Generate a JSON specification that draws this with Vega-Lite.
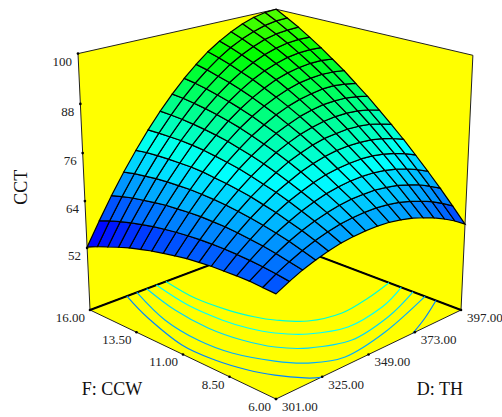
{"$schema":"https://vega.github.io/schema/vega-lite/v6.json","width":502,"height":417,"padding":0,"autosize":"none","background":"white","view":{"stroke":null},
"projection":{"type":"identity","scale":1,"translate":[0,0]},
"data":{"values":[
{"g":"f","p":"a","n":0,"D":301,"F":16,"CCT":35.7},{"g":"f","p":"a","n":1,"D":397,"F":16,"CCT":35.7},{"g":"f","p":"a","n":2,"D":397,"F":16,"CCT":100},{"g":"f","p":"a","n":3,"D":301,"F":16,"CCT":100},
{"g":"f","p":"b","n":0,"D":397,"F":16,"CCT":35.7},{"g":"f","p":"b","n":1,"D":397,"F":6,"CCT":35.7},{"g":"f","p":"b","n":2,"D":397,"F":6,"CCT":100},{"g":"f","p":"b","n":3,"D":397,"F":16,"CCT":100},
{"g":"f","p":"c","n":0,"D":301,"F":6,"CCT":35.7},{"g":"f","p":"c","n":1,"D":397,"F":6,"CCT":35.7},{"g":"f","p":"c","n":2,"D":397,"F":16,"CCT":35.7},{"g":"f","p":"c","n":3,"D":301,"F":16,"CCT":35.7},
{"g":"e","n":0,"D":301,"F":16,"CCT":35.7},{"g":"e","n":1,"D":397,"F":16,"CCT":35.7},{"g":"e","n":2,"D":397,"F":6,"CCT":35.7},
{"g":"c","c":1,"n":0,"L":65,"CCT":35.7,"D":318.3,"F":16},{"g":"c","c":1,"n":1,"L":65,"CCT":35.7,"D":311.5,"F":13.9},{"g":"c","c":1,"n":2,"L":65,"CCT":35.7,"D":305.6,"F":11.29},{"g":"c","c":1,"n":3,"L":65,"CCT":35.7,"D":305.9,"F":9.57},{"g":"c","c":1,"n":4,"L":65,"CCT":35.7,"D":308.7,"F":8.19},{"g":"c","c":1,"n":5,"L":65,"CCT":35.7,"D":312.5,"F":7.25},{"g":"c","c":1,"n":6,"L":65,"CCT":35.7,"D":318.1,"F":6.36},{"g":"c","c":1,"n":7,"L":65,"CCT":35.7,"D":322.1,"F":6},
{"g":"c","c":2,"n":0,"L":68,"CCT":35.7,"D":323.1,"F":16},{"g":"c","c":2,"n":1,"L":68,"CCT":35.7,"D":314.7,"F":13.32},{"g":"c","c":2,"n":2,"L":68,"CCT":35.7,"D":312.1,"F":11.18},{"g":"c","c":2,"n":3,"L":68,"CCT":35.7,"D":313.6,"F":9.54},{"g":"c","c":2,"n":4,"L":68,"CCT":35.7,"D":319.7,"F":8.01},{"g":"c","c":2,"n":5,"L":68,"CCT":35.7,"D":326.6,"F":7.07},{"g":"c","c":2,"n":6,"L":68,"CCT":35.7,"D":338.8,"F":6.46},{"g":"c","c":2,"n":7,"L":68,"CCT":35.7,"D":363.3,"F":6.79},{"g":"c","c":2,"n":8,"L":68,"CCT":35.7,"D":397,"F":7.78},
{"g":"c","c":3,"n":0,"L":71,"CCT":35.7,"D":327.9,"F":16},{"g":"c","c":3,"n":1,"L":71,"CCT":35.7,"D":322.9,"F":13.72},{"g":"c","c":3,"n":2,"L":71,"CCT":35.7,"D":321.2,"F":11.67},{"g":"c","c":3,"n":3,"L":71,"CCT":35.7,"D":323,"F":10.05},{"g":"c","c":3,"n":4,"L":71,"CCT":35.7,"D":327.3,"F":8.79},{"g":"c","c":3,"n":5,"L":71,"CCT":35.7,"D":334.8,"F":7.89},{"g":"c","c":3,"n":6,"L":71,"CCT":35.7,"D":350.2,"F":7.21},{"g":"c","c":3,"n":7,"L":71,"CCT":35.7,"D":373.5,"F":7.57},{"g":"c","c":3,"n":8,"L":71,"CCT":35.7,"D":397,"F":8.39},
{"g":"c","c":4,"n":0,"L":74,"CCT":35.7,"D":332.7,"F":16},{"g":"c","c":4,"n":1,"L":74,"CCT":35.7,"D":329.1,"F":13.71},{"g":"c","c":4,"n":2,"L":74,"CCT":35.7,"D":329.2,"F":11.81},{"g":"c","c":4,"n":3,"L":74,"CCT":35.7,"D":331.2,"F":10.62},{"g":"c","c":4,"n":4,"L":74,"CCT":35.7,"D":335.1,"F":9.61},{"g":"c","c":4,"n":5,"L":74,"CCT":35.7,"D":342.8,"F":8.69},{"g":"c","c":4,"n":6,"L":74,"CCT":35.7,"D":357,"F":8.05},{"g":"c","c":4,"n":7,"L":74,"CCT":35.7,"D":378.5,"F":8.32},{"g":"c","c":4,"n":8,"L":74,"CCT":35.7,"D":397,"F":9},
{"g":"c","c":5,"n":0,"L":77,"CCT":35.7,"D":337.5,"F":16},{"g":"c","c":5,"n":1,"L":77,"CCT":35.7,"D":335.1,"F":14},{"g":"c","c":5,"n":2,"L":77,"CCT":35.7,"D":336.5,"F":12.29},{"g":"c","c":5,"n":3,"L":77,"CCT":35.7,"D":339.4,"F":11.12},{"g":"c","c":5,"n":4,"L":77,"CCT":35.7,"D":342.7,"F":10.4},{"g":"c","c":5,"n":5,"L":77,"CCT":35.7,"D":350.5,"F":9.46},{"g":"c","c":5,"n":6,"L":77,"CCT":35.7,"D":364.2,"F":9.04},{"g":"c","c":5,"n":7,"L":77,"CCT":35.7,"D":380.8,"F":9.25},{"g":"c","c":5,"n":8,"L":77,"CCT":35.7,"D":397,"F":9.64},
{"g":"c","c":6,"n":0,"L":65,"CCT":35.7,"D":397,"F":7.23},{"g":"c","c":6,"n":1,"L":65,"CCT":35.7,"D":382.3,"F":6.52},{"g":"c","c":6,"n":2,"L":65,"CCT":35.7,"D":369.6,"F":6},
{"g":"tz","D":301,"F":16,"CCT":100,"t":"100"},{"g":"tz","D":301,"F":16,"CCT":88,"t":"88"},{"g":"tz","D":301,"F":16,"CCT":76,"t":"76"},{"g":"tz","D":301,"F":16,"CCT":64,"t":"64"},{"g":"tz","D":301,"F":16,"CCT":52,"t":"52"},
{"g":"tf","D":301,"F":16,"CCT":35.7,"t":"16.00"},{"g":"tf","D":301,"F":13.26,"CCT":35.7,"t":"13.50"},{"g":"tf","D":301,"F":10.69,"CCT":35.7,"t":"11.00"},{"g":"tf","D":301,"F":8.275,"CCT":35.7,"t":"8.50"},{"g":"tf","D":301,"F":6,"CCT":35.7,"t":"6.00"},
{"g":"td","D":301,"F":6,"CCT":35.7,"t":"301.00"},{"g":"td","D":322.7,"F":6,"CCT":35.7,"t":"325.00"},{"g":"td","D":345.9,"F":6,"CCT":35.7,"t":"349.00"},{"g":"td","D":370.6,"F":6,"CCT":35.7,"t":"373.00"},{"g":"td","D":397,"F":6,"CCT":35.7,"t":"397.00"},
{"g":"title","D":267.7,"F":10.39,"CCT":35.7,"t":"F: CCW"},{"g":"title","D":343.1,"F":2.49,"CCT":35.7,"t":"D: TH"},{"g":"zt","D":301,"F":16,"CCT":67.5,"t":"CCT"},
{"g":"s","D":301,"F":6,"CCT":60.4},{"g":"s","D":301,"F":6.625,"CCT":60.6},{"g":"s","D":301,"F":7.25,"CCT":60.8},{"g":"s","D":301,"F":7.875,"CCT":60.8},{"g":"s","D":301,"F":8.5,"CCT":60.7},{"g":"s","D":301,"F":9.125,"CCT":60.6},{"g":"s","D":301,"F":9.75,"CCT":60.3},{"g":"s","D":301,"F":10.375,"CCT":60},{"g":"s","D":301,"F":11,"CCT":59.5},{"g":"s","D":301,"F":11.625,"CCT":58.9},{"g":"s","D":301,"F":12.25,"CCT":58.3},{"g":"s","D":301,"F":12.875,"CCT":57.5},{"g":"s","D":301,"F":13.5,"CCT":56.7},{"g":"s","D":301,"F":14.125,"CCT":55.7},{"g":"s","D":301,"F":14.75,"CCT":54.6},{"g":"s","D":301,"F":15.375,"CCT":53.5},{"g":"s","D":301,"F":16,"CCT":52.2},
{"g":"s","D":307,"F":6,"CCT":62},{"g":"s","D":307,"F":6.625,"CCT":62.5},{"g":"s","D":307,"F":7.25,"CCT":62.9},{"g":"s","D":307,"F":7.875,"CCT":63.2},{"g":"s","D":307,"F":8.5,"CCT":63.4},{"g":"s","D":307,"F":9.125,"CCT":63.5},{"g":"s","D":307,"F":9.75,"CCT":63.5},{"g":"s","D":307,"F":10.375,"CCT":63.4},{"g":"s","D":307,"F":11,"CCT":63.2},{"g":"s","D":307,"F":11.625,"CCT":62.9},{"g":"s","D":307,"F":12.25,"CCT":62.5},{"g":"s","D":307,"F":12.875,"CCT":62},{"g":"s","D":307,"F":13.5,"CCT":61.4},{"g":"s","D":307,"F":14.125,"CCT":60.7},{"g":"s","D":307,"F":14.75,"CCT":59.9},{"g":"s","D":307,"F":15.375,"CCT":59},{"g":"s","D":307,"F":16,"CCT":57.9},
{"g":"s","D":313,"F":6,"CCT":63.4},{"g":"s","D":313,"F":6.625,"CCT":64.1},{"g":"s","D":313,"F":7.25,"CCT":64.8},{"g":"s","D":313,"F":7.875,"CCT":65.4},{"g":"s","D":313,"F":8.5,"CCT":65.8},{"g":"s","D":313,"F":9.125,"CCT":66.2},{"g":"s","D":313,"F":9.75,"CCT":66.5},{"g":"s","D":313,"F":10.375,"CCT":66.6},{"g":"s","D":313,"F":11,"CCT":66.7},{"g":"s","D":313,"F":11.625,"CCT":66.6},{"g":"s","D":313,"F":12.25,"CCT":66.4},{"g":"s","D":313,"F":12.875,"CCT":66.2},{"g":"s","D":313,"F":13.5,"CCT":65.8},{"g":"s","D":313,"F":14.125,"CCT":65.3},{"g":"s","D":313,"F":14.75,"CCT":64.8},{"g":"s","D":313,"F":15.375,"CCT":64.1},{"g":"s","D":313,"F":16,"CCT":63.3},
{"g":"s","D":319,"F":6,"CCT":64.5},{"g":"s","D":319,"F":6.625,"CCT":65.5},{"g":"s","D":319,"F":7.25,"CCT":66.5},{"g":"s","D":319,"F":7.875,"CCT":67.3},{"g":"s","D":319,"F":8.5,"CCT":68},{"g":"s","D":319,"F":9.125,"CCT":68.6},{"g":"s","D":319,"F":9.75,"CCT":69.1},{"g":"s","D":319,"F":10.375,"CCT":69.5},{"g":"s","D":319,"F":11,"CCT":69.8},{"g":"s","D":319,"F":11.625,"CCT":70},{"g":"s","D":319,"F":12.25,"CCT":70.1},{"g":"s","D":319,"F":12.875,"CCT":70},{"g":"s","D":319,"F":13.5,"CCT":69.9},{"g":"s","D":319,"F":14.125,"CCT":69.7},{"g":"s","D":319,"F":14.75,"CCT":69.3},{"g":"s","D":319,"F":15.375,"CCT":68.9},{"g":"s","D":319,"F":16,"CCT":68.3},
{"g":"s","D":325,"F":6,"CCT":65.4},{"g":"s","D":325,"F":6.625,"CCT":66.7},{"g":"s","D":325,"F":7.25,"CCT":67.9},{"g":"s","D":325,"F":7.875,"CCT":68.9},{"g":"s","D":325,"F":8.5,"CCT":69.9},{"g":"s","D":325,"F":9.125,"CCT":70.7},{"g":"s","D":325,"F":9.75,"CCT":71.5},{"g":"s","D":325,"F":10.375,"CCT":72.1},{"g":"s","D":325,"F":11,"CCT":72.6},{"g":"s","D":325,"F":11.625,"CCT":73},{"g":"s","D":325,"F":12.25,"CCT":73.4},{"g":"s","D":325,"F":12.875,"CCT":73.6},{"g":"s","D":325,"F":13.5,"CCT":73.6},{"g":"s","D":325,"F":14.125,"CCT":73.6},{"g":"s","D":325,"F":14.75,"CCT":73.5},{"g":"s","D":325,"F":15.375,"CCT":73.3},{"g":"s","D":325,"F":16,"CCT":72.9},
{"g":"s","D":331,"F":6,"CCT":66.1},{"g":"s","D":331,"F":6.625,"CCT":67.6},{"g":"s","D":331,"F":7.25,"CCT":69},{"g":"s","D":331,"F":7.875,"CCT":70.3},{"g":"s","D":331,"F":8.5,"CCT":71.5},{"g":"s","D":331,"F":9.125,"CCT":72.6},{"g":"s","D":331,"F":9.75,"CCT":73.5},{"g":"s","D":331,"F":10.375,"CCT":74.4},{"g":"s","D":331,"F":11,"CCT":75.2},{"g":"s","D":331,"F":11.625,"CCT":75.8},{"g":"s","D":331,"F":12.25,"CCT":76.3},{"g":"s","D":331,"F":12.875,"CCT":76.8},{"g":"s","D":331,"F":13.5,"CCT":77.1},{"g":"s","D":331,"F":14.125,"CCT":77.3},{"g":"s","D":331,"F":14.75,"CCT":77.3},{"g":"s","D":331,"F":15.375,"CCT":77.3},{"g":"s","D":331,"F":16,"CCT":77.2},
{"g":"s","D":337,"F":6,"CCT":66.5},{"g":"s","D":337,"F":6.625,"CCT":68.3},{"g":"s","D":337,"F":7.25,"CCT":69.9},{"g":"s","D":337,"F":7.875,"CCT":71.4},{"g":"s","D":337,"F":8.5,"CCT":72.8},{"g":"s","D":337,"F":9.125,"CCT":74.1},{"g":"s","D":337,"F":9.75,"CCT":75.3},{"g":"s","D":337,"F":10.375,"CCT":76.4},{"g":"s","D":337,"F":11,"CCT":77.4},{"g":"s","D":337,"F":11.625,"CCT":78.2},{"g":"s","D":337,"F":12.25,"CCT":79},{"g":"s","D":337,"F":12.875,"CCT":79.6},{"g":"s","D":337,"F":13.5,"CCT":80.1},{"g":"s","D":337,"F":14.125,"CCT":80.5},{"g":"s","D":337,"F":14.75,"CCT":80.8},{"g":"s","D":337,"F":15.375,"CCT":81},{"g":"s","D":337,"F":16,"CCT":81.1},
{"g":"s","D":343,"F":6,"CCT":66.7},{"g":"s","D":343,"F":6.625,"CCT":68.7},{"g":"s","D":343,"F":7.25,"CCT":70.6},{"g":"s","D":343,"F":7.875,"CCT":72.3},{"g":"s","D":343,"F":8.5,"CCT":73.9},{"g":"s","D":343,"F":9.125,"CCT":75.5},{"g":"s","D":343,"F":9.75,"CCT":76.9},{"g":"s","D":343,"F":10.375,"CCT":78.2},{"g":"s","D":343,"F":11,"CCT":79.3},{"g":"s","D":343,"F":11.625,"CCT":80.4},{"g":"s","D":343,"F":12.25,"CCT":81.4},{"g":"s","D":343,"F":12.875,"CCT":82.2},{"g":"s","D":343,"F":13.5,"CCT":82.9},{"g":"s","D":343,"F":14.125,"CCT":83.5},{"g":"s","D":343,"F":14.75,"CCT":84},{"g":"s","D":343,"F":15.375,"CCT":84.4},{"g":"s","D":343,"F":16,"CCT":84.6},
{"g":"s","D":349,"F":6,"CCT":66.7},{"g":"s","D":349,"F":6.625,"CCT":68.9},{"g":"s","D":349,"F":7.25,"CCT":71},{"g":"s","D":349,"F":7.875,"CCT":72.9},{"g":"s","D":349,"F":8.5,"CCT":74.8},{"g":"s","D":349,"F":9.125,"CCT":76.5},{"g":"s","D":349,"F":9.75,"CCT":78.1},{"g":"s","D":349,"F":10.375,"CCT":79.6},{"g":"s","D":349,"F":11,"CCT":81},{"g":"s","D":349,"F":11.625,"CCT":82.2},{"g":"s","D":349,"F":12.25,"CCT":83.4},{"g":"s","D":349,"F":12.875,"CCT":84.4},{"g":"s","D":349,"F":13.5,"CCT":85.3},{"g":"s","D":349,"F":14.125,"CCT":86.1},{"g":"s","D":349,"F":14.75,"CCT":86.8},{"g":"s","D":349,"F":15.375,"CCT":87.4},{"g":"s","D":349,"F":16,"CCT":87.8},
{"g":"s","D":355,"F":6,"CCT":66.5},{"g":"s","D":355,"F":6.625,"CCT":68.9},{"g":"s","D":355,"F":7.25,"CCT":71.1},{"g":"s","D":355,"F":7.875,"CCT":73.3},{"g":"s","D":355,"F":8.5,"CCT":75.3},{"g":"s","D":355,"F":9.125,"CCT":77.3},{"g":"s","D":355,"F":9.75,"CCT":79.1},{"g":"s","D":355,"F":10.375,"CCT":80.8},{"g":"s","D":355,"F":11,"CCT":82.3},{"g":"s","D":355,"F":11.625,"CCT":83.8},{"g":"s","D":355,"F":12.25,"CCT":85.1},{"g":"s","D":355,"F":12.875,"CCT":86.3},{"g":"s","D":355,"F":13.5,"CCT":87.4},{"g":"s","D":355,"F":14.125,"CCT":88.4},{"g":"s","D":355,"F":14.75,"CCT":89.2},{"g":"s","D":355,"F":15.375,"CCT":90},{"g":"s","D":355,"F":16,"CCT":90.6},
{"g":"s","D":361,"F":6,"CCT":66},{"g":"s","D":361,"F":6.625,"CCT":68.6},{"g":"s","D":361,"F":7.25,"CCT":71.1},{"g":"s","D":361,"F":7.875,"CCT":73.4},{"g":"s","D":361,"F":8.5,"CCT":75.6},{"g":"s","D":361,"F":9.125,"CCT":77.8},{"g":"s","D":361,"F":9.75,"CCT":79.8},{"g":"s","D":361,"F":10.375,"CCT":81.6},{"g":"s","D":361,"F":11,"CCT":83.4},{"g":"s","D":361,"F":11.625,"CCT":85},{"g":"s","D":361,"F":12.25,"CCT":86.5},{"g":"s","D":361,"F":12.875,"CCT":87.9},{"g":"s","D":361,"F":13.5,"CCT":89.2},{"g":"s","D":361,"F":14.125,"CCT":90.3},{"g":"s","D":361,"F":14.75,"CCT":91.4},{"g":"s","D":361,"F":15.375,"CCT":92.3},{"g":"s","D":361,"F":16,"CCT":93.1},
{"g":"s","D":367,"F":6,"CCT":65.3},{"g":"s","D":367,"F":6.625,"CCT":68.1},{"g":"s","D":367,"F":7.25,"CCT":70.7},{"g":"s","D":367,"F":7.875,"CCT":73.3},{"g":"s","D":367,"F":8.5,"CCT":75.7},{"g":"s","D":367,"F":9.125,"CCT":78},{"g":"s","D":367,"F":9.75,"CCT":80.1},{"g":"s","D":367,"F":10.375,"CCT":82.2},{"g":"s","D":367,"F":11,"CCT":84.1},{"g":"s","D":367,"F":11.625,"CCT":85.9},{"g":"s","D":367,"F":12.25,"CCT":87.6},{"g":"s","D":367,"F":12.875,"CCT":89.2},{"g":"s","D":367,"F":13.5,"CCT":90.6},{"g":"s","D":367,"F":14.125,"CCT":91.9},{"g":"s","D":367,"F":14.75,"CCT":93.1},{"g":"s","D":367,"F":15.375,"CCT":94.2},{"g":"s","D":367,"F":16,"CCT":95.1},
{"g":"s","D":373,"F":6,"CCT":64.3},{"g":"s","D":373,"F":6.625,"CCT":67.3},{"g":"s","D":373,"F":7.25,"CCT":70.2},{"g":"s","D":373,"F":7.875,"CCT":72.9},{"g":"s","D":373,"F":8.5,"CCT":75.5},{"g":"s","D":373,"F":9.125,"CCT":77.9},{"g":"s","D":373,"F":9.75,"CCT":80.3},{"g":"s","D":373,"F":10.375,"CCT":82.5},{"g":"s","D":373,"F":11,"CCT":84.6},{"g":"s","D":373,"F":11.625,"CCT":86.5},{"g":"s","D":373,"F":12.25,"CCT":88.4},{"g":"s","D":373,"F":12.875,"CCT":90.1},{"g":"s","D":373,"F":13.5,"CCT":91.7},{"g":"s","D":373,"F":14.125,"CCT":93.2},{"g":"s","D":373,"F":14.75,"CCT":94.5},{"g":"s","D":373,"F":15.375,"CCT":95.7},{"g":"s","D":373,"F":16,"CCT":96.8},
{"g":"s","D":379,"F":6,"CCT":63.2},{"g":"s","D":379,"F":6.625,"CCT":66.3},{"g":"s","D":379,"F":7.25,"CCT":69.3},{"g":"s","D":379,"F":7.875,"CCT":72.2},{"g":"s","D":379,"F":8.5,"CCT":75},{"g":"s","D":379,"F":9.125,"CCT":77.6},{"g":"s","D":379,"F":9.75,"CCT":80.1},{"g":"s","D":379,"F":10.375,"CCT":82.5},{"g":"s","D":379,"F":11,"CCT":84.7},{"g":"s","D":379,"F":11.625,"CCT":86.9},{"g":"s","D":379,"F":12.25,"CCT":88.8},{"g":"s","D":379,"F":12.875,"CCT":90.7},{"g":"s","D":379,"F":13.5,"CCT":92.5},{"g":"s","D":379,"F":14.125,"CCT":94.1},{"g":"s","D":379,"F":14.75,"CCT":95.6},{"g":"s","D":379,"F":15.375,"CCT":96.9},{"g":"s","D":379,"F":16,"CCT":98.2},
{"g":"s","D":385,"F":6,"CCT":61.8},{"g":"s","D":385,"F":6.625,"CCT":65.1},{"g":"s","D":385,"F":7.25,"CCT":68.3},{"g":"s","D":385,"F":7.875,"CCT":71.3},{"g":"s","D":385,"F":8.5,"CCT":74.2},{"g":"s","D":385,"F":9.125,"CCT":77},{"g":"s","D":385,"F":9.75,"CCT":79.7},{"g":"s","D":385,"F":10.375,"CCT":82.2},{"g":"s","D":385,"F":11,"CCT":84.6},{"g":"s","D":385,"F":11.625,"CCT":86.9},{"g":"s","D":385,"F":12.25,"CCT":89},{"g":"s","D":385,"F":12.875,"CCT":91},{"g":"s","D":385,"F":13.5,"CCT":92.9},{"g":"s","D":385,"F":14.125,"CCT":94.7},{"g":"s","D":385,"F":14.75,"CCT":96.3},{"g":"s","D":385,"F":15.375,"CCT":97.8},{"g":"s","D":385,"F":16,"CCT":99.2},
{"g":"s","D":391,"F":6,"CCT":60.2},{"g":"s","D":391,"F":6.625,"CCT":63.6},{"g":"s","D":391,"F":7.25,"CCT":66.9},{"g":"s","D":391,"F":7.875,"CCT":70.1},{"g":"s","D":391,"F":8.5,"CCT":73.2},{"g":"s","D":391,"F":9.125,"CCT":76.1},{"g":"s","D":391,"F":9.75,"CCT":78.9},{"g":"s","D":391,"F":10.375,"CCT":81.6},{"g":"s","D":391,"F":11,"CCT":84.1},{"g":"s","D":391,"F":11.625,"CCT":86.5},{"g":"s","D":391,"F":12.25,"CCT":88.8},{"g":"s","D":391,"F":12.875,"CCT":91},{"g":"s","D":391,"F":13.5,"CCT":93},{"g":"s","D":391,"F":14.125,"CCT":94.9},{"g":"s","D":391,"F":14.75,"CCT":96.6},{"g":"s","D":391,"F":15.375,"CCT":98.3},{"g":"s","D":391,"F":16,"CCT":99.8},
{"g":"s","D":397,"F":6,"CCT":58.3},{"g":"s","D":397,"F":6.625,"CCT":61.9},{"g":"s","D":397,"F":7.25,"CCT":65.4},{"g":"s","D":397,"F":7.875,"CCT":68.7},{"g":"s","D":397,"F":8.5,"CCT":71.9},{"g":"s","D":397,"F":9.125,"CCT":75},{"g":"s","D":397,"F":9.75,"CCT":77.9},{"g":"s","D":397,"F":10.375,"CCT":80.7},{"g":"s","D":397,"F":11,"CCT":83.4},{"g":"s","D":397,"F":11.625,"CCT":85.9},{"g":"s","D":397,"F":12.25,"CCT":88.4},{"g":"s","D":397,"F":12.875,"CCT":90.6},{"g":"s","D":397,"F":13.5,"CCT":92.8},{"g":"s","D":397,"F":14.125,"CCT":94.8},{"g":"s","D":397,"F":14.75,"CCT":96.7},{"g":"s","D":397,"F":15.375,"CCT":98.4},{"g":"s","D":397,"F":16,"CCT":100}
]},
"transform":[
{"calculate":"(datum.D-301)/96","as":"u"},{"calculate":"(datum.F-6)/10","as":"v"},{"calculate":"(datum.CCT-35.7)/64.3","as":"h"},
{"calculate":"0.139*datum.u+0.132*datum.v+1-0.0687*datum.h","as":"w"},
{"calculate":"(249.1*datum.u-174.1*datum.v+276-18.96*datum.h)/datum.w","as":"x"},
{"calculate":"(-45.9*datum.u-48.1*datum.v+399-293.9*datum.h)/datum.w","as":"y"}
],
"layer":[
{"transform":[{"filter":"datum.g=='f'"},
{"window":[{"op":"lead","field":"x","param":1,"as":"x1"},{"op":"lead","field":"y","param":1,"as":"y1"},{"op":"lead","field":"x","param":2,"as":"x2"},{"op":"lead","field":"y","param":2,"as":"y2"},{"op":"lead","field":"x","param":3,"as":"x3"},{"op":"lead","field":"y","param":3,"as":"y3"}],"groupby":["p"],"sort":[{"field":"n"}]},
{"filter":"datum.n==0"},
{"calculate":"{type:'Polygon',coordinates:[[[datum.x,datum.y],[datum.x1,datum.y1],[datum.x2,datum.y2],[datum.x3,datum.y3],[datum.x,datum.y]]]}","as":"geo"}],
"mark":{"type":"geoshape","fill":"#ffff00","stroke":"#222222","strokeWidth":1},"encoding":{"shape":{"field":"geo","type":"geojson"}}},
{"transform":[{"filter":"datum.g=='e'"}],"mark":{"type":"line","color":"#000000","strokeWidth":2},"encoding":{"longitude":{"field":"x","type":"quantitative"},"latitude":{"field":"y","type":"quantitative"},"order":{"field":"n"}}},
{"transform":[{"filter":"datum.g=='c'"}],"mark":{"type":"line","strokeWidth":1.2,"interpolate":"cardinal"},"encoding":{"longitude":{"field":"x","type":"quantitative"},"latitude":{"field":"y","type":"quantitative"},"detail":{"field":"c"},"order":{"field":"n"},"color":{"field":"L","type":"quantitative","legend":null,"scale":{"domain":[55,74,93,114],"range":["#0000ff","#00ffff","#00ff00","#ffff00"],"interpolate":"rgb"}}}},
{"transform":[{"filter":"datum.g=='s'"},
{"window":[{"op":"lead","field":"x","param":1,"as":"x1"},{"op":"lead","field":"y","param":1,"as":"y1"},{"op":"lead","field":"CCT","param":1,"as":"c1"},{"op":"lead","field":"x","param":17,"as":"x2"},{"op":"lead","field":"y","param":17,"as":"y2"},{"op":"lead","field":"CCT","param":17,"as":"c2"},{"op":"lead","field":"x","param":18,"as":"x3"},{"op":"lead","field":"y","param":18,"as":"y3"},{"op":"lead","field":"CCT","param":18,"as":"c3"}],"sort":[{"field":"D"},{"field":"F"}]},
{"filter":"datum.D<397&&datum.F<16"},
{"calculate":"(datum.CCT+datum.c1+datum.c2+datum.c3)/4","as":"m"},
{"calculate":"{type:'Polygon',coordinates:[[[datum.x,datum.y],[datum.x1,datum.y1],[datum.x3,datum.y3],[datum.x2,datum.y2],[datum.x,datum.y]]]}","as":"geo"}],
"mark":{"type":"geoshape","stroke":"#000000","strokeWidth":1.2},"encoding":{"shape":{"field":"geo","type":"geojson"},"color":{"field":"m","type":"quantitative","legend":null,"scale":{"domain":[55,74,93,114],"range":["#0000ff","#00ffff","#00ff00","#ffff00"],"interpolate":"rgb"}}}},
{"transform":[{"filter":"datum.g=='tz'||datum.g=='tf'||datum.g=='td'"}],"mark":{"type":"circle","size":7,"color":"#000000","opacity":1},"encoding":{"longitude":{"field":"x","type":"quantitative"},"latitude":{"field":"y","type":"quantitative"}}},
{"transform":[{"filter":"datum.g=='tz'"}],"mark":{"type":"text","font":"Liberation Serif","fontSize":13,"color":"#222222","align":"right","baseline":"middle","dx":-6,"dy":8},"encoding":{"longitude":{"field":"x","type":"quantitative"},"latitude":{"field":"y","type":"quantitative"},"text":{"field":"t"}}},
{"transform":[{"filter":"datum.g=='tf'"}],"mark":{"type":"text","font":"Liberation Serif","fontSize":13,"color":"#222222","align":"right","baseline":"middle","dx":-5,"dy":8},"encoding":{"longitude":{"field":"x","type":"quantitative"},"latitude":{"field":"y","type":"quantitative"},"text":{"field":"t"}}},
{"transform":[{"filter":"datum.g=='td'"}],"mark":{"type":"text","font":"Liberation Serif","fontSize":13,"color":"#222222","align":"left","baseline":"middle","dx":6,"dy":8},"encoding":{"longitude":{"field":"x","type":"quantitative"},"latitude":{"field":"y","type":"quantitative"},"text":{"field":"t"}}},
{"transform":[{"filter":"datum.g=='title'"}],"mark":{"type":"text","font":"Liberation Serif","fontSize":18,"color":"#111111","align":"center","baseline":"middle"},"encoding":{"longitude":{"field":"x","type":"quantitative"},"latitude":{"field":"y","type":"quantitative"},"text":{"field":"t"}}},
{"transform":[{"filter":"datum.g=='zt'"}],"mark":{"type":"text","font":"Liberation Serif","fontSize":18,"color":"#111111","align":"center","baseline":"middle","angle":270,"dx":0,"dy":-62},"encoding":{"longitude":{"field":"x","type":"quantitative"},"latitude":{"field":"y","type":"quantitative"},"text":{"field":"t"}}}
]}
